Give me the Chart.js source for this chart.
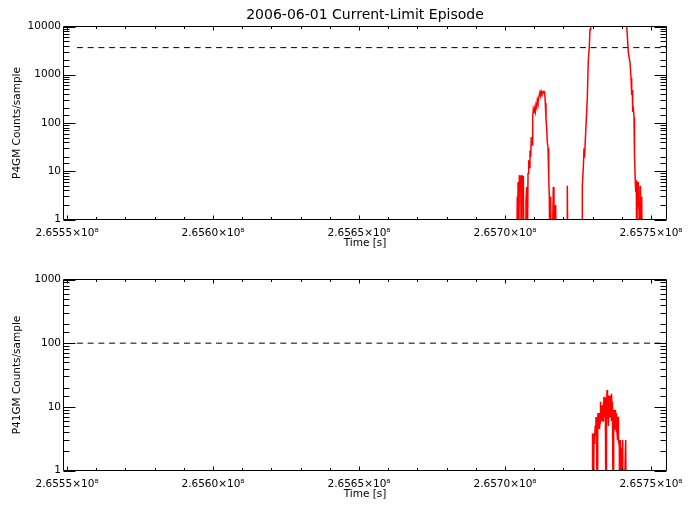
<!DOCTYPE html>
<html>
<head>
<meta charset="utf-8">
<script src="https://cdn.jsdelivr.net/npm/chart.js@4.4.0/dist/chart.umd.min.js"></script>
<style>
body { margin: 0; background: #fff; }
#wrap { position: relative; width: 691px; height: 511px; }
canvas { position: absolute; left: 0; }
#topChart { top: 0; }
#bottomChart { top: 253px; }
</style>
</head>
<body>
<div id="wrap">
  <canvas id="topChart" width="691" height="256"></canvas>
  <canvas id="bottomChart" width="691" height="258"></canvas>
</div>
<script>
// x axis
const xMin = 265548790;
const xMax = 265755310;
const xTickValues = [265550000, 265600000, 265650000, 265700000, 265750000];
const xTickLabels = ['2.6555×10⁸', '2.6560×10⁸', '2.6565×10⁸', '2.6570×10⁸', '2.6575×10⁸'];

// P4GM (top panel); 0.1 = zero counts, drawn below the axis
const p4gmTimes = [
  265700000, 265703940, 265704210, 265704450, 265704690, 265704900, 265705140, 265705380, 265705580, 265705820,
  265706060, 265706270, 265706510, 265706950, 265707190, 265707430, 265707640, 265707880, 265708120, 265708320,
  265708560, 265708800, 265709010, 265709250, 265709490, 265709690, 265709930, 265710170, 265710380, 265710620,
  265710860, 265711060, 265711300, 265711540, 265711750, 265711990, 265712230, 265712430, 265712670, 265712910,
  265713120, 265713360, 265713600, 265713800, 265714040, 265714280, 265714490, 265714730, 265714970, 265715170,
  265715410, 265715650, 265715860, 265716100, 265716540, 265716780, 265716890, 265717120, 265717360, 265717570,
  265721240, 265721340, 265721580, 265726370, 265726480, 265726820, 265727060, 265727230, 265727400, 265727740,
  265728190, 265728530, 265728870, 265729110, 265729350, 265730820, 265734250, 265737680, 265741100, 265741680,
  265742230, 265742810, 265743160, 265743390, 265743600, 265743740, 265743940, 265744180, 265744350, 265744630,
  265744770, 265744970, 265745110, 265745310, 265745550, 265745660, 265745900, 265746000, 265746240, 265746410,
  265746820, 265747030, 265753090
];
const p4gmCounts = [
  0.1, 0.1, 2.9, 6, 0.1, 8.3, 4, 8.3, 0.1, 8.3,
  5, 8, 0.1, 0.1, 2.5, 4.7, 0.1, 9, 17, 12,
  27, 20, 51, 35, 130, 190, 160, 200, 170, 240,
  215, 300, 260, 330, 380, 440, 400, 450, 410, 440,
  420, 450, 430, 260, 120, 80, 40, 30, 7.5, 3,
  0.1, 3, 0.1, 0.1, 4.7, 0.1, 2, 0.1, 2, 0.1,
  0.1, 5, 0.1, 0.1, 5, 12, 30, 19, 31, 90,
  330, 2000, 3800, 8700, 20000, 40000, 60000, 50000, 25000, 10500,
  2900, 1800, 860, 380, 480, 170, 220, 130, 20, 6,
  3.7, 6.5, 0.1, 4, 6, 2.5, 1.5, 0.1, 5, 0.1,
  3, 0.1, 0.1
];
const p4gmLimit = 3650;

// P41GM (bottom panel)
const p41gmTimes = [
  265729110, 265729800, 265729900, 265730040, 265730140, 265730240, 265730380, 265730480, 265730650, 265730820,
  265730930, 265731070, 265731170, 265731270, 265731410, 265731610, 265731750, 265731850, 265731960, 265732090,
  265732200, 265732300, 265732430, 265732540, 265732640, 265732780, 265732880, 265732980, 265733120, 265733220,
  265733330, 265733460, 265733570, 265733670, 265733800, 265733910, 265734010, 265734150, 265734250, 265734350,
  265734590, 265734700, 265734830, 265734940, 265735040, 265735180, 265735280, 265735380, 265735520, 265735620,
  265735720, 265735860, 265735960, 265736070, 265736200, 265736310, 265736410, 265736550, 265736650, 265736750,
  265736890, 265737090, 265737230, 265737330, 265737440, 265737570, 265737680, 265737780, 265737920, 265738020,
  265738120, 265738260, 265738360, 265738460, 265738600, 265738700, 265738870, 265739150, 265739280, 265739390,
  265739560, 265739730, 265739970, 265740310, 265740520, 265741340, 265741550
];
const p41gmCounts = [
  0.1, 0.1, 2.8, 3.8, 2.5, 3.8, 0.1, 3.6, 2.6, 3.6,
  5.1, 3.5, 6.9, 4, 5, 0.1, 6, 8, 4.5, 6,
  5, 8, 4.8, 5.6, 9, 12, 7, 9, 6, 10.6,
  7, 8.9, 6, 12, 9, 14.4, 8, 10, 7, 14,
  0.1, 14, 9, 18.3, 10, 13, 7, 5, 9, 15,
  8, 11, 7, 15, 9, 10.5, 6, 16, 9, 12,
  6, 0.1, 7, 9, 5, 7, 4.5, 9, 5, 5.6,
  4, 8, 4, 5, 3, 7, 3, 2.4, 0.1, 3,
  1.8, 2.3, 0.1, 3, 0.1, 3, 0.1
];
const p41gmLimit = 100;
const limitStart = 265553400;

Chart.defaults.font.family = 'DejaVu Sans';
Chart.defaults.color = '#000';

function isDecade(v) {
  const l = Math.log10(v);
  return Math.abs(l - Math.round(l)) < 1e-9;
}

// IDL style box with inward ticks on all four sides
const idlAxes = {
  id: 'idlAxes',
  afterDraw(chart) {
    const {ctx, chartArea: a, scales: {x, y}} = chart;
    ctx.save();
    ctx.strokeStyle = '#000';
    ctx.lineWidth = 1;
    ctx.beginPath();
    ctx.rect(a.left, a.top, a.right - a.left, a.bottom - a.top);
    y.ticks.forEach(t => {
      const py = Math.round(y.getPixelForValue(t.value)) + 0.5;
      const len = isDecade(t.value) ? 12 : 6;
      ctx.moveTo(a.left, py); ctx.lineTo(a.left + len, py);
      ctx.moveTo(a.right, py); ctx.lineTo(a.right - len, py);
    });
    const step = (xTickValues[1] - xTickValues[0]) / 5;
    for (let v = xTickValues[0] - 5 * step; v <= xMax; v += step) {
      if (v < xMin) continue;
      const px = Math.round(x.getPixelForValue(v)) + 0.5;
      const len = xTickValues.includes(v) ? 4 : 2.5;
      ctx.moveTo(px, a.bottom); ctx.lineTo(px, a.bottom - len);
      ctx.moveTo(px, a.top); ctx.lineTo(px, a.top + len);
    }
    ctx.stroke();
    ctx.restore();
  }
};

function makeChart(id, times, counts, limit, yMax, yTitle, title) {
  const points = times.map((t, i) => ({x: t, y: counts[i]}));
  return new Chart(document.getElementById(id), {
    type: 'line',
    data: {
      datasets: [{
        data: points,
        borderColor: '#ff0000',
        borderWidth: 1.5,
        pointRadius: 0,
        tension: 0
      }, {
        data: [{x: limitStart, y: limit}, {x: xMax, y: limit}],
        borderColor: '#000',
        borderWidth: 1,
        borderDash: [6, 4.7],
        pointRadius: 0
      }]
    },
    options: {
      responsive: false,
      animation: false,
      layout: {
        padding: {top: title ? 0 : 26.5, right: 24.5, bottom: title ? 0 : 4, left: 0}
      },
      plugins: {
        legend: {display: false},
        tooltip: {enabled: false},
        title: {
          display: !!title,
          text: title,
          fullSize: false,
          font: {size: 14, weight: 'normal'},
          padding: {top: 7.4, bottom: 2.3}
        }
      },
      scales: {
        x: {
          type: 'linear',
          min: xMin,
          max: xMax,
          grid: {display: false, drawTicks: false},
          border: {display: false},
          afterBuildTicks: s => { s.ticks = xTickValues.map(v => ({value: v})); },
          afterFit: s => { s.height = 36.5; },
          ticks: {
            autoSkip: false,
            maxRotation: 0,
            padding: 7.2,
            font: {size: 10.5},
            callback: (v) => xTickLabels[xTickValues.indexOf(v)]
          },
          title: {display: true, text: 'Time [s]', font: {size: 10.5}, padding: {top: 0, bottom: 6.2}}
        },
        y: {
          type: 'logarithmic',
          min: 1,
          max: yMax,
          grid: {display: false, drawTicks: false},
          border: {display: false},
          afterFit: s => { s.width = 63.5; },
          ticks: {
            autoSkip: false,
            padding: 2.5,
            font: {size: 10.5},
            callback: (v) => isDecade(v) ? String(Math.round(v)) : ''
          },
          title: {display: true, text: yTitle, font: {size: 10.5}, padding: {top: 10.7, bottom: 0}}
        }
      }
    },
    plugins: [idlAxes]
  });
}

makeChart('topChart', p4gmTimes, p4gmCounts, p4gmLimit, 10000, 'P4GM Counts/sample', '2006-06-01 Current-Limit Episode');
makeChart('bottomChart', p41gmTimes, p41gmCounts, p41gmLimit, 1000, 'P41GM Counts/sample', '');
</script>
</body>
</html>
